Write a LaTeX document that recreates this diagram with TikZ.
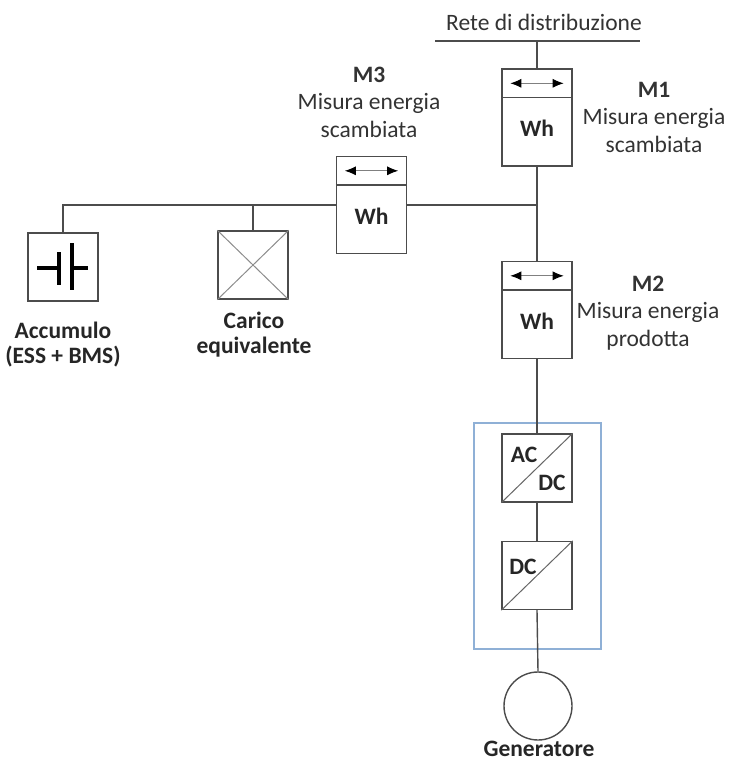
\documentclass[tikz,border=0pt]{standalone}
\usepackage{fontspec}
\setmainfont{Carlito}
\usetikzlibrary{arrows.meta,calc,positioning}
\definecolor{bordoblu}{RGB}{143,176,214}

\begin{document}
\begin{tikzpicture}[x=1pt, y=1pt,
    wire/.style={draw=black!70, line width=1.4pt},
    meterbox/.style={draw=black!70, line width=1.4pt, minimum width=70pt, minimum height=97pt, inner sep=0pt},
    convbox/.style={draw=black!70, line width=1.4pt, minimum width=70pt, minimum height=68pt, inner sep=0pt},
    lbl/.style={font=\fontsize{23.5}{27.5}\selectfont, align=center, text=black!80},
    blbl/.style={font=\fontsize{23.5}{25}\selectfont\bfseries, align=center, text=black!85}]
    \useasboundingbox (0,0) rectangle (730,-763);
    % rete
    \node[lbl] (rete) at (544,-22) {Rete di distribuzione};
    \coordinate (busl) at (435,-41);
    \coordinate (busr) at (640,-41);
    \coordinate (bus) at (537,-41);
    \coordinate (nodo) at (537,-205);
    % contatori
    \node[meterbox] (m1) at (537,-117.5) {};
    \node[meterbox] (m3) at (371.5,-205) {};
    \node[meterbox] (m2) at (537,-310) {};
    \foreach \m in {m1,m2,m3} {
        \draw[wire] ($(\m.north west)+(0,-29)$) -- ($(\m.north east)+(0,-29)$);
        \draw[black!50, line width=0.9pt, {Latex[black,length=11pt,width=9pt]}-{Latex[black,length=11pt,width=9pt]}]
            ($(\m.north west)+(9,-15)$) -- ($(\m.north east)+(-9,-15)$);
        \node[blbl] at ($(\m.south)+(0,38)$) {Wh};
    }
    \node[lbl] (etM1) at (654,-117) {\textbf{M1}\\Misura energia\\scambiata};
    \node[lbl] (etM3) at (369,-102) {\textbf{M3}\\Misura energia\\scambiata};
    \node[lbl] (etM2) at (648,-313) {\textbf{M2}\\Misura energia\\prodotta};
    % convertitori
    \node[draw=bordoblu, line width=1.4pt, minimum width=127pt, minimum height=226pt] (conv) at (537.5,-536) {};
    \node[convbox, fill=white] (acdc) at (537,-468) {};
    \node[convbox, fill=white] (dcdc) at (537,-575.5) {};
    \draw[black!60, line width=1pt] (acdc.south west) -- (acdc.north east);
    \draw[black!60, line width=1pt] (dcdc.south west) -- (dcdc.north east);
    \node[blbl] at ($(acdc.center)+(-13,13)$) {AC};
    \node[blbl] at ($(acdc.center)+(15,-15)$) {DC};
    \node[blbl] at ($(dcdc.center)+(-14,8.5)$) {DC};
    % generatore
    \node[draw=black!70, line width=1.4pt, circle, minimum size=68pt, inner sep=0pt] (gen) at (538,-706) {};
    \node[blbl] (etGen) at (539,-749) {Generatore};
    % accumulo e carico
    \node[convbox] (acc) at (63,-267) {};
    \draw[line width=3.5pt] ($(acc.center)+(-26,-1)$) -- ($(acc.center)+(-4,-1)$)
        ($(acc.center)+(-4,15)$) -- ($(acc.center)+(-4,-18)$)
        ($(acc.center)+(9,24)$) -- ($(acc.center)+(9,-23)$)
        ($(acc.center)+(9,-1)$) -- ($(acc.center)+(25,-1)$);
    \node[blbl] (etAcc) at (63,-345) {Accumulo\\(ESS + BMS)};
    \node[convbox] (carico) at (253,-265) {};
    \draw[black!45, line width=1pt] (carico.north west) -- (carico.south east)
        (carico.north east) -- (carico.south west);
    \node[blbl] (etCar) at (254,-335) {Carico\\equivalente};
    % collegamenti
    \draw[wire] (busl) -- (busr);
    \draw[wire] (bus) -- (m1.north);
    \draw[wire] (m1.south) -- (nodo) -- (m2.north);
    \draw[wire] (m2.south) -- (acdc.north);
    \draw[wire] (acdc.south) -- (dcdc.north);
    \draw[wire] (dcdc.south) -- (gen.north);
    \draw[wire] (m3.east) -- (nodo);
    \draw[wire] (m3.west) -- (acc |- m3.west) -- (acc.north);
    \draw[wire] (carico.north) -- (carico |- m3.west);
\end{tikzpicture}
\end{document}
